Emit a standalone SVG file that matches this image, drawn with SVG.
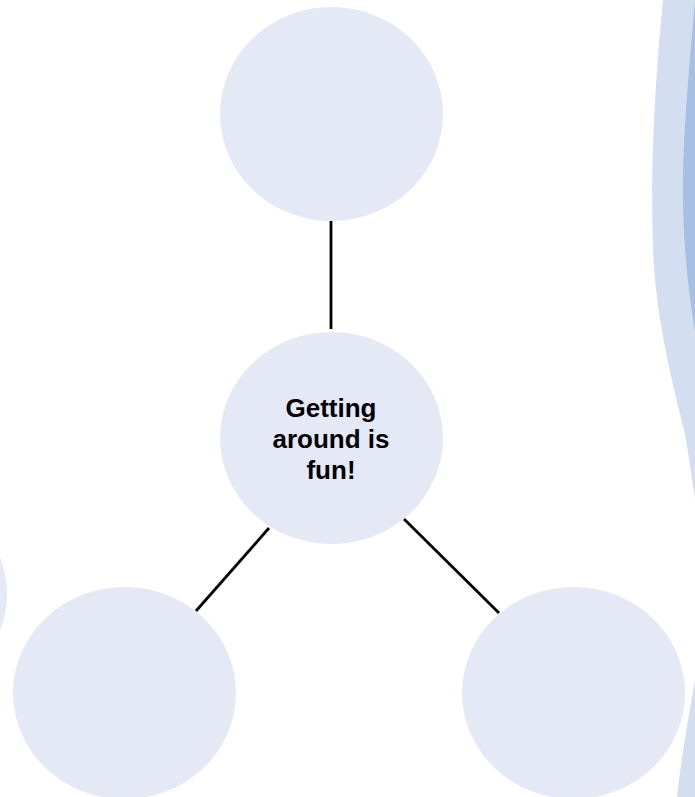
<svg xmlns="http://www.w3.org/2000/svg" width="695" height="797" viewBox="0 0 695 797">
  <style>
    .node { fill: #E5E9F5; }
    .edge { stroke: #000; stroke-width: 2.8; fill: none; }
    .label { font-family: "Liberation Sans", Arial, sans-serif; font-weight: bold; font-size: 26px; fill: #000; text-anchor: middle; }
    .band-light { fill: #D3DEF0; }
    .band-dark { fill: #A7BFE2; }
  </style>
  <rect width="695" height="797" fill="#fff"/>
  <g id="decoration">
    <path class="band-light" d="M663,0 C656,70 650,160 653,250 C656,320 672,380 684,430 C689,455 692,480 695,498 L695,0 Z"/>
    <path class="band-dark" d="M695,0 C690,60 682,140 683,200 C684,260 690,300 695,332 L695,0 Z"/>
    <path class="band-light" d="M695,680 C688,720 681,760 677,797 L695,797 Z"/>
  </g>
  <g id="node-left-partial">
    <ellipse class="node" cx="-104.5" cy="594" rx="111.5" ry="106"/>
  </g>
  <g id="connectors">
    <line class="edge" x1="331" y1="221" x2="331" y2="329"/>
    <line class="edge" x1="269" y1="528" x2="196" y2="611"/>
    <line class="edge" x1="404" y1="519" x2="499" y2="613"/>
  </g>
  <g id="node-top">
    <ellipse class="node" cx="331.5" cy="114" rx="111.5" ry="107"/>
  </g>
  <g id="node-center">
    <ellipse class="node" cx="331.5" cy="438" rx="111.5" ry="106"/>
    <text class="label" x="331" y="417">Getting</text>
    <text class="label" x="331" y="448">around is</text>
    <text class="label" x="331" y="479">fun!</text>
  </g>
  <g id="node-bottom-left">
    <ellipse class="node" cx="124.5" cy="693" rx="111.5" ry="106"/>
  </g>
  <g id="node-bottom-right">
    <ellipse class="node" cx="573.5" cy="693" rx="111.5" ry="106"/>
  </g>
</svg>
